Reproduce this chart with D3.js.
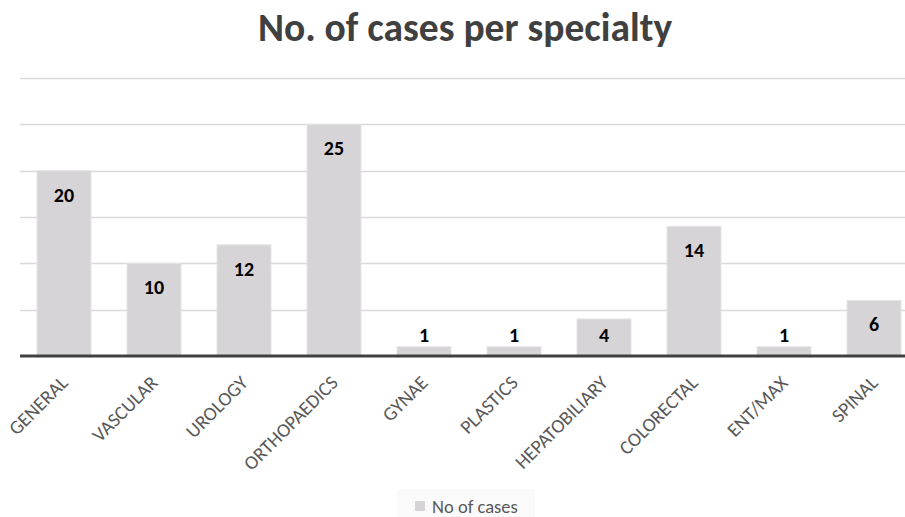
<!DOCTYPE html>
<html>
<head>
<meta charset="utf-8">
<script src="https://cdn.jsdelivr.net/npm/d3@7"></script>
<style>
  html, body { margin: 0; padding: 0; background: #fff; }
  svg { display: block; }
</style>
</head>
<body>
<div id="chart"></div>
<script>
// Cases per surgical specialty
const specialties = ["GENERAL", "VASCULAR", "UROLOGY", "ORTHOPAEDICS", "GYNAE",
                     "PLASTICS", "HEPATOBILIARY", "COLORECTAL", "ENT/MAX", "SPINAL"];
const cases = [20, 10, 12, 25, 1, 1, 4, 14, 1, 6];
const gridTicks = [0, 5, 10, 15, 20, 25, 30];
const seriesName = "No of cases";

const width = 905, height = 517;
const font = "Carlito, 'Open Sans', 'Liberation Sans', sans-serif";

const svg = d3.select("#chart").append("svg")
  .attr("width", width).attr("height", height);

const x = d3.scaleBand()
  .domain(specialties)
  .range([19, 919])
  .paddingInner(0.4)
  .paddingOuter(0.2);

const y = d3.scaleLinear()
  .domain([0, 30])
  .range([356, 78]);

// title
svg.append("text")
  .attr("x", 465).attr("y", 41)
  .attr("text-anchor", "middle")
  .attr("font-family", font)
  .attr("font-weight", "bold")
  .attr("font-size", 39.5)
  .attr("fill", "#404040")
  .text("No. of cases per specialty");

// horizontal gridlines
svg.append("g")
  .selectAll("line")
  .data(gridTicks.filter(t => t > 0))
  .join("line")
  .attr("x1", 20).attr("x2", 919)
  .attr("y1", d => Math.round(y(d)) + 0.5)
  .attr("y2", d => Math.round(y(d)) + 0.5)
  .attr("stroke", "#d9d9d9")
  .attr("stroke-width", 1.5);

// bars
svg.append("g")
  .selectAll("rect")
  .data(specialties.map((s, i) => ({ s, v: cases[i] })))
  .join("rect")
  .attr("x", d => x(d.s))
  .attr("y", d => y(d.v))
  .attr("width", x.bandwidth())
  .attr("height", d => y(0) - y(d.v))
  .attr("fill", "#d6d4d6")
  .attr("stroke", "#e6e5e6")
  .attr("stroke-width", 1);

// value labels
svg.append("g")
  .selectAll("text")
  .data(specialties.map((s, i) => ({ s, v: cases[i] })))
  .join("text")
  .attr("x", d => x(d.s) + x.bandwidth() / 2)
  .attr("y", d => Math.min(y(d.v) + 24, y(0) - 21))
  .attr("dy", "0.35em")
  .attr("text-anchor", "middle")
  .attr("font-family", font)
  .attr("font-weight", "bold")
  .attr("font-size", 20)
  .attr("fill", "#000")
  .text(d => d.v);

// category axis baseline
svg.append("line")
  .attr("x1", 20).attr("x2", 919)
  .attr("y1", y(0)).attr("y2", y(0))
  .attr("stroke", "#404040")
  .attr("stroke-width", 3);

// rotated category labels
svg.append("g")
  .selectAll("text")
  .data(specialties)
  .join("text")
  .attr("transform", d => `translate(${x(d) + x.bandwidth() / 2 + 5},${384}) rotate(-45)`)
  .attr("text-anchor", "end")
  .attr("font-family", font)
  .attr("font-size", 19.5)
  .attr("fill", "#595959")
  .text(d => d);

// legend
const legend = svg.append("g");
legend.append("rect")
  .attr("x", 397).attr("y", 489).attr("width", 138).attr("height", 28)
  .attr("fill", "#fafafa");
legend.append("rect")
  .attr("x", 415).attr("y", 501).attr("width", 10).attr("height", 10)
  .attr("fill", "#d6d4d6");
legend.append("text")
  .attr("x", 432).attr("y", 506)
  .attr("dominant-baseline", "central")
  .attr("font-family", font)
  .attr("font-size", 18.5)
  .attr("fill", "#595959")
  .text(seriesName);
</script>
</body>
</html>
